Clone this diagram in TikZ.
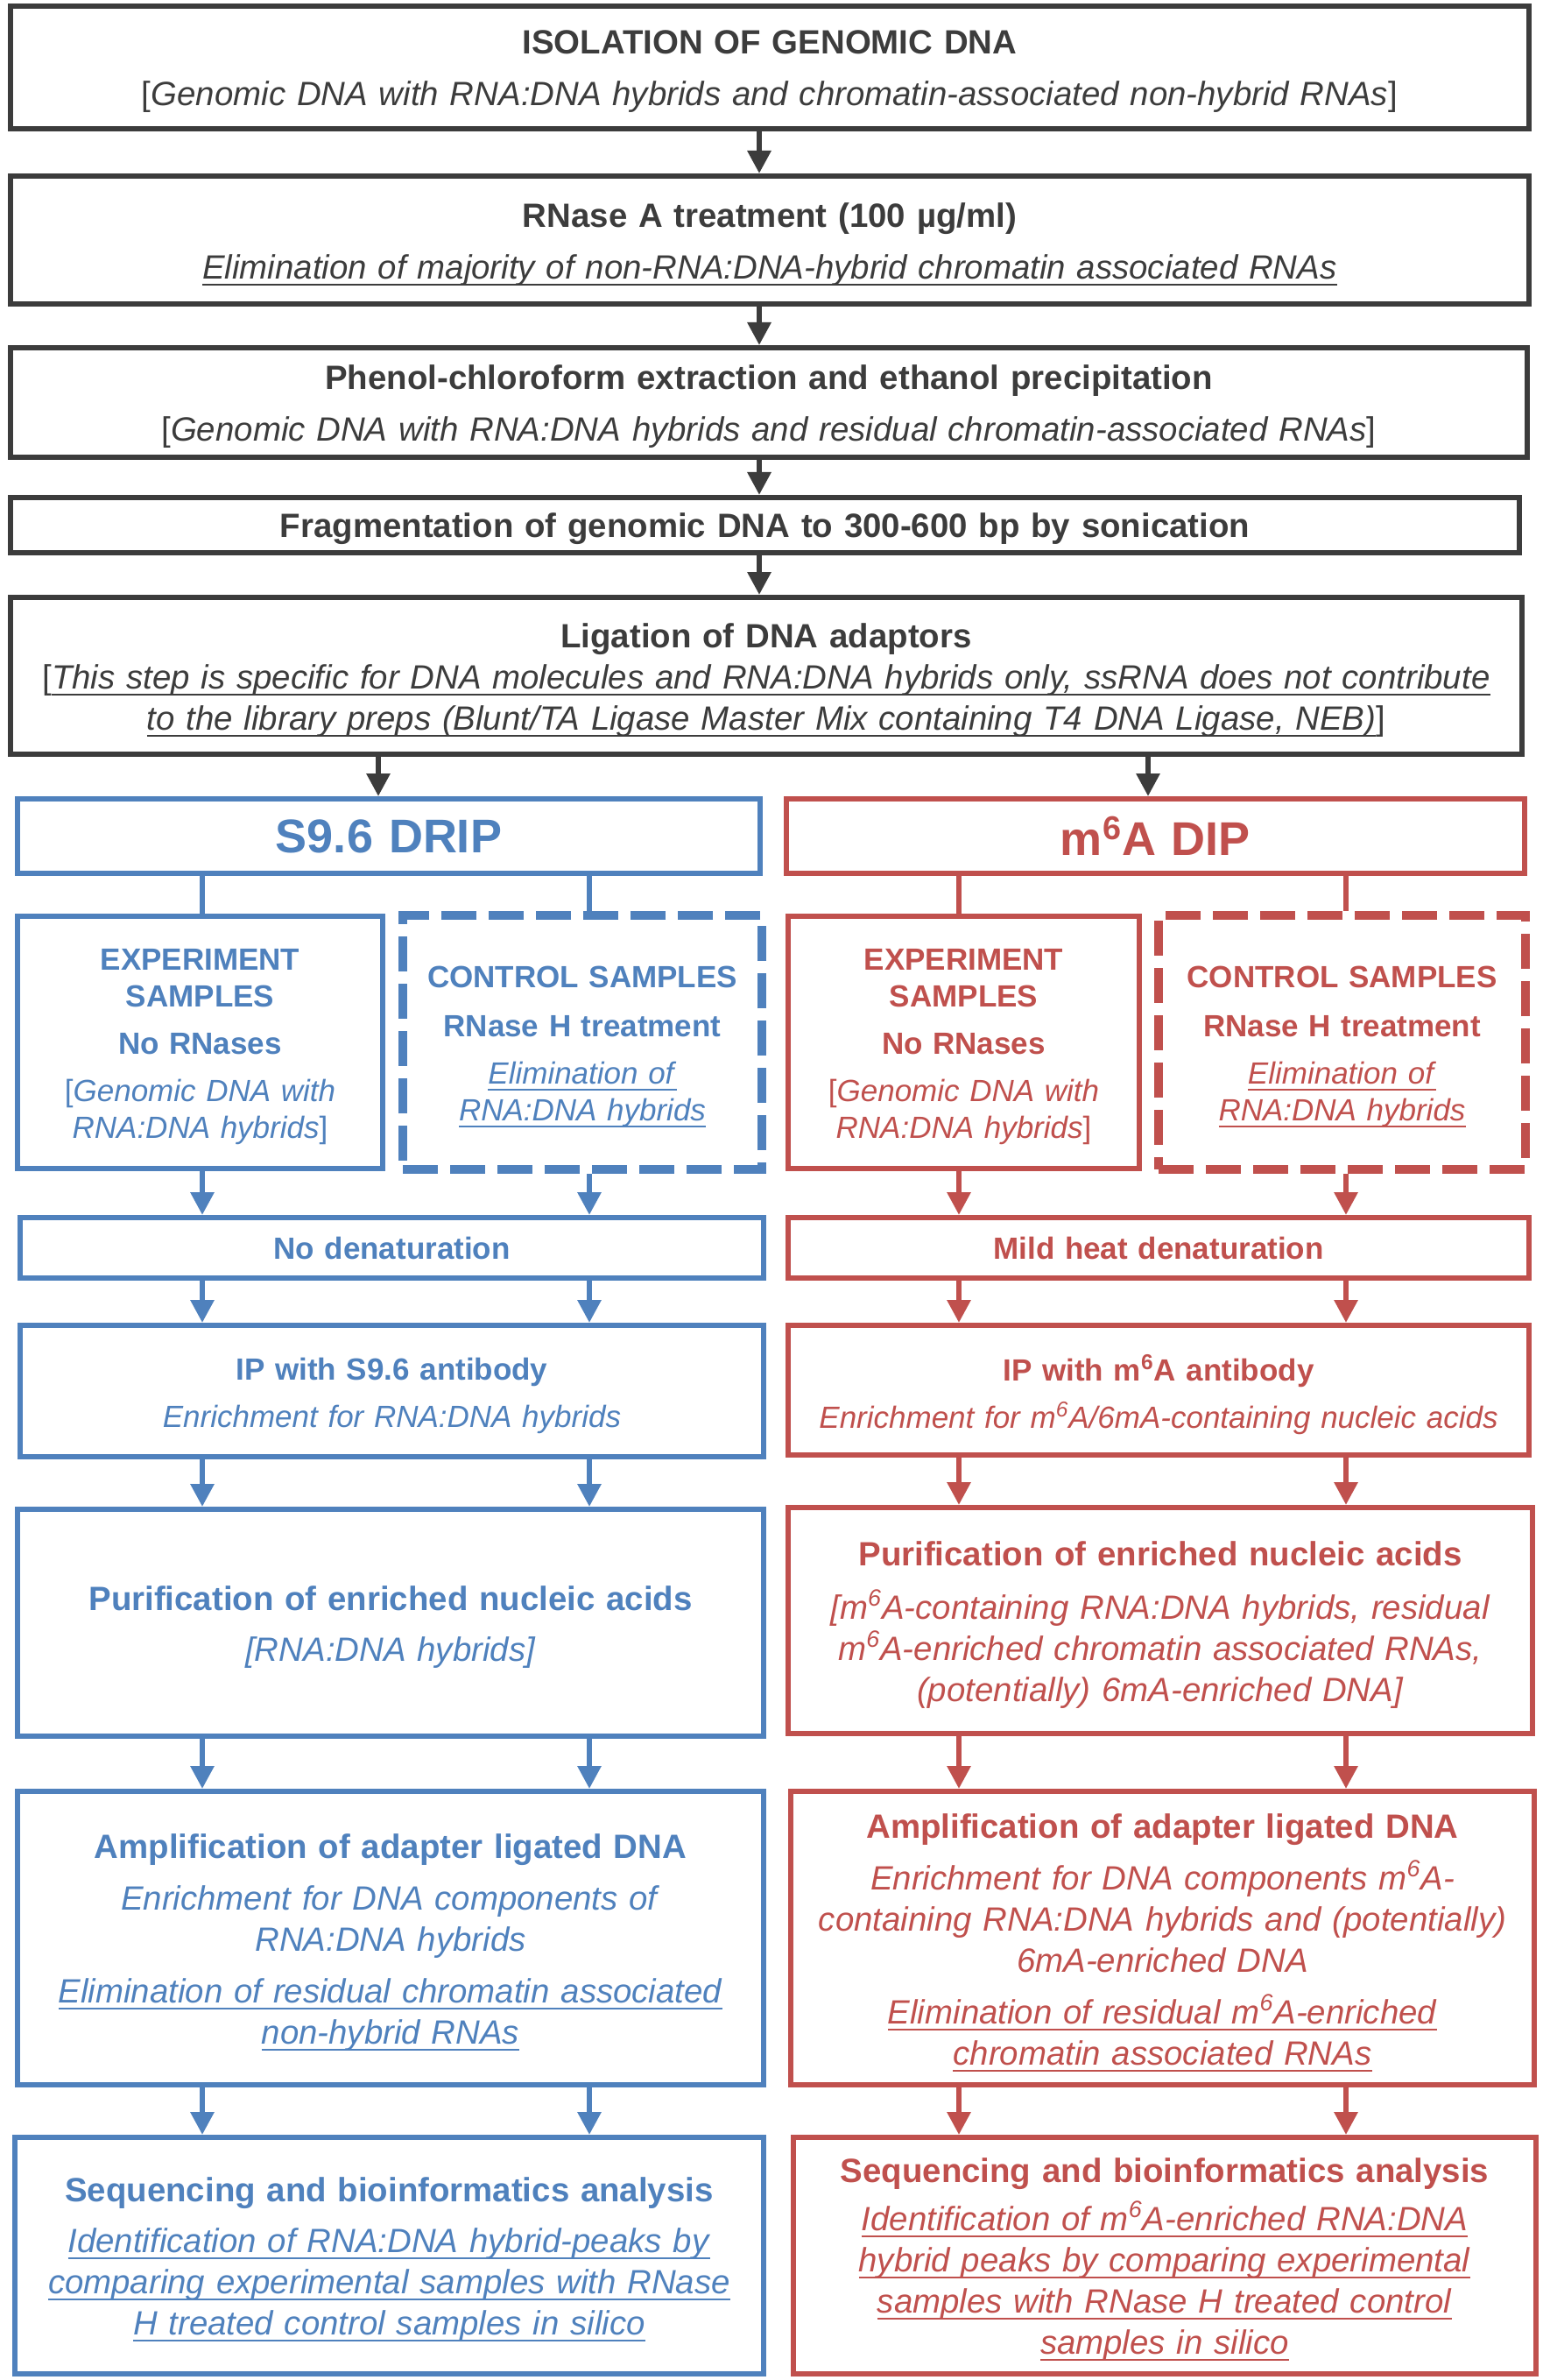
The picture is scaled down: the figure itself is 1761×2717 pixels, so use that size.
\documentclass[tikz,border=0pt]{standalone}
\usepackage{fontspec}
\setmainfont{Liberation Sans}
\usetikzlibrary{arrows.meta}
\definecolor{dgray}{HTML}{3C3C3C}
\definecolor{dripblue}{HTML}{4F81BD}
\definecolor{dipred}{HTML}{C0504D}
% underline one line of text
\newcommand{\uln}[1]{\leavevmode\setbox0=\hbox{#1}\rlap{\vrule height -2.6pt depth 3.6pt width \wd0}\box0}
% trims the bottom of a text block, so that it sits a little lower in its box
\newcommand{\lowr}{\par\vskip-5pt\kern0pt}

\begin{document}
\begin{tikzpicture}[x=0.5pt,y=-0.5pt,
  box/.style={draw=#1,text=#1,line width=3pt,align=center,inner sep=0pt,
    font=\fontsize{17.5}{23.5}\selectfont},
  bigbox/.style={box=#1,font=\fontsize{19.2}{23.5}\selectfont},
  samplebox/.style={box=#1,font=\fontsize{17.5}{21}\selectfont},
  ctlbox/.style={samplebox=#1,line width=5pt,dash pattern=on 20pt off 7pt},
  arr/.style={draw=#1,line width=3pt,-{Triangle[width=13pt,length=13pt]}},
  link/.style={draw=#1,line width=3pt}]
\useasboundingbox[fill=white] (0,0) rectangle (1761,2717);

% column positions of the connectors
\coordinate (mid) at (867,0);
\coordinate (brL) at (432,0);
\coordinate (brR) at (1311,0);
\coordinate (cA) at (231,0);
\coordinate (cB) at (673,0);
\coordinate (cC) at (1095,0);
\coordinate (cD) at (1537,0);

% common steps
\node[bigbox=dgray,minimum width=867pt,minimum height=70pt,text width=860pt] (iso) at (879,77)
  {\textbf{ISOLATION OF GENOMIC DNA}\\[6pt]
   {[}\textit{Genomic DNA with RNA:DNA hybrids and chromatin-associated non-hybrid RNAs}]\lowr};
\node[bigbox=dgray,minimum width=867pt,minimum height=73pt,text width=860pt] (rnasea) at (879,274)
  {\textbf{RNase A treatment (100 µg/ml)}\\[6pt]
   \uln{\textit{Elimination of majority of non-RNA:DNA-hybrid chromatin associated RNAs}}\lowr};
\node[bigbox=dgray,minimum width=866pt,minimum height=62.5pt,text width=860pt] (phenol) at (878,459.5)
  {\textbf{Phenol-chloroform extraction and ethanol precipitation}\\[6pt]
   {[}\textit{Genomic DNA with RNA:DNA hybrids and residual chromatin-associated RNAs}]\lowr};
\node[bigbox=dgray,minimum width=861.5pt,minimum height=31.5pt,text width=855pt] (frag) at (873.5,599.5)
  {\textbf{Fragmentation of genomic DNA to 300-600 bp by sonication}\lowr};
\node[bigbox=dgray,minimum width=863pt,minimum height=89.5pt,text width=858pt] (lig) at (875,771.5)
  {\textbf{Ligation of DNA adaptors}\\
   {[}\uln{\textit{This step is specific for DNA molecules and RNA:DNA hybrids only, ssRNA does not contribute}}\\
   \uln{\textit{to the library preps (Blunt/TA Ligase Master Mix containing T4 DNA Ligase, NEB)}}]\lowr};

% S9.6 DRIP branch
\node[box=dripblue,minimum width=424pt,minimum height=42.5pt,text width=418pt,
  font=\fontsize{27}{32}\selectfont] (drip) at (444,954.5) {\textbf{S9.6 DRIP}};
\node[samplebox=dripblue,minimum width=208.5pt,minimum height=144pt,text width=204pt] (expL) at (228.5,1190)
  {\textbf{EXPERIMENT}\\\textbf{SAMPLES}\\[6pt]\textbf{No RNases}\\[6pt]
   {[}\textit{Genomic DNA with}\\\textit{RNA:DNA hybrids}]\lowr};
\node[ctlbox=dripblue,minimum width=205pt,minimum height=145pt,text width=200pt] (ctlL) at (665,1190)
  {\textbf{CONTROL SAMPLES}\\[7pt]\textbf{RNase H treatment}\\[6pt]
   \uln{\textit{Elimination of}}\\\uln{\textit{RNA:DNA hybrids}}\lowr};
\node[box=dripblue,minimum width=424.5pt,minimum height=34.5pt,text width=418pt] (denL) at (447.5,1424.5)
  {\textbf{No denaturation}\lowr};
\node[box=dripblue,minimum width=424.5pt,minimum height=75pt,text width=418pt] (ipL) at (447.5,1588)
  {\textbf{IP with S9.6 antibody}\\[3.5pt]\textit{Enrichment for RNA:DNA hybrids}\lowr};
\node[bigbox=dripblue,minimum width=426pt,minimum height=129.5pt,text width=420pt] (purL) at (446,1852.5)
  {\textbf{Purification of enriched nucleic acids}\\[5.5pt]\textit{[RNA:DNA hybrids]}\lowr};
\node[bigbox=dripblue,minimum width=426pt,minimum height=167.5pt,text width=420pt] (ampL) at (446,2212.5)
  {\textbf{Amplification of adapter ligated DNA}\\[6pt]
   \textit{Enrichment for DNA components of}\\\textit{RNA:DNA hybrids}\\[6pt]
   \uln{\textit{Elimination of residual chromatin associated}}\\\uln{\textit{non-hybrid RNAs}}\lowr};
\node[bigbox=dripblue,minimum width=427.5pt,minimum height=135pt,text width=421pt] (seqL) at (444.5,2575)
  {\textbf{Sequencing and bioinformatics analysis}\\[5.5pt]
   \uln{\textit{Identification of RNA:DNA hybrid-peaks by}}\\
   \uln{\textit{comparing experimental samples with RNase}}\\
   \uln{\textit{H treated control samples in silico}}\lowr};

% m6A DIP branch
\node[box=dipred,minimum width=421.5pt,minimum height=42.5pt,text width=415pt,
  font=\fontsize{27}{32}\selectfont] (dip) at (1319.5,954.5) {\textbf{m\textsuperscript{6}A DIP}};
\node[samplebox=dipred,minimum width=200.5pt,minimum height=144pt,text width=196pt] (expR) at (1100.5,1190)
  {\textbf{EXPERIMENT}\\\textbf{SAMPLES}\\[6pt]\textbf{No RNases}\\[6pt]
   {[}\textit{Genomic DNA with}\\\textit{RNA:DNA hybrids}]\lowr};
\node[ctlbox=dipred,minimum width=209.5pt,minimum height=145pt,text width=204pt] (ctlR) at (1532.5,1190)
  {\textbf{CONTROL SAMPLES}\\[7pt]\textbf{RNase H treatment}\\[6pt]
   \uln{\textit{Elimination of}}\\\uln{\textit{RNA:DNA hybrids}}\lowr};
\node[box=dipred,minimum width=423pt,minimum height=34.5pt,text width=417pt] (denR) at (1323,1424.5)
  {\textbf{Mild heat denaturation}\lowr};
\node[box=dipred,minimum width=423pt,minimum height=74pt,text width=417pt] (ipR) at (1323,1587)
  {\textbf{IP with m\textsuperscript{6}A antibody}\\[3.5pt]
   \textit{Enrichment for m\textsuperscript{6}A/6mA-containing nucleic acids}\lowr};
\node[bigbox=dipred,minimum width=425pt,minimum height=129pt,text width=419pt] (purR) at (1325,1850)
  {\textbf{Purification of enriched nucleic acids}\\[7pt]
   \textit{[m\textsuperscript{6}A-containing RNA:DNA hybrids, residual}\\
   \textit{m\textsuperscript{6}A-enriched chromatin associated RNAs,}\\
   \textit{(potentially) 6mA-enriched DNA]}\lowr};
\node[bigbox=dipred,minimum width=424.5pt,minimum height=167.5pt,text width=419pt] (ampR) at (1327.5,2212.5)
  {\textbf{Amplification of adapter ligated DNA}\\[6pt]
   \textit{Enrichment for DNA components m\textsuperscript{6}A-}\\
   \textit{containing RNA:DNA hybrids and (potentially)}\\
   \textit{6mA-enriched DNA}\\[6pt]
   \uln{\textit{Elimination of residual m\textsuperscript{6}A-enriched}}\\
   \uln{\textit{chromatin associated RNAs}}\lowr};
\node[bigbox=dipred,minimum width=424pt,minimum height=135pt,text width=418pt] (seqR) at (1330,2575)
  {\textbf{Sequencing and bioinformatics analysis}\\[4pt]
   \uln{\textit{Identification of m\textsuperscript{6}A-enriched RNA:DNA}}\\
   \uln{\textit{hybrid peaks by comparing experimental}}\\
   \uln{\textit{samples with RNase H treated control}}\\
   \uln{\textit{samples in silico}}\lowr};

% main column
\foreach \a/\b in {iso/rnasea, rnasea/phenol, phenol/frag, frag/lig}
  \draw[arr=dgray] (\a.south -| mid) -- (\b.north -| mid);
\draw[arr=dgray] (lig.south -| brL) -- (drip.north -| brL);
\draw[arr=dgray] (lig.south -| brR) -- (dip.north -| brR);

% branch links
\draw[link=dripblue] (drip.south -| cA) -- (expL.north -| cA);
\draw[link=dripblue] (drip.south -| cB) -- (ctlL.north -| cB);
\draw[link=dipred] (dip.south -| cC) -- (expR.north -| cC);
\draw[link=dipred] (dip.south -| cD) -- (ctlR.north -| cD);

% step arrows
\draw[arr=dripblue] (expL.south -| cA) -- (denL.north -| cA);
\draw[arr=dripblue] (ctlL.south -| cB) -- (denL.north -| cB);
\draw[arr=dipred] (expR.south -| cC) -- (denR.north -| cC);
\draw[arr=dipred] (ctlR.south -| cD) -- (denR.north -| cD);
\foreach \a/\b in {denL/ipL, ipL/purL, purL/ampL, ampL/seqL}
  \foreach \c in {cA,cB}
    \draw[arr=dripblue] (\a.south -| \c) -- (\b.north -| \c);
\foreach \a/\b in {denR/ipR, ipR/purR, purR/ampR, ampR/seqR}
  \foreach \c in {cC,cD}
    \draw[arr=dipred] (\a.south -| \c) -- (\b.north -| \c);
\end{tikzpicture}
\end{document}
